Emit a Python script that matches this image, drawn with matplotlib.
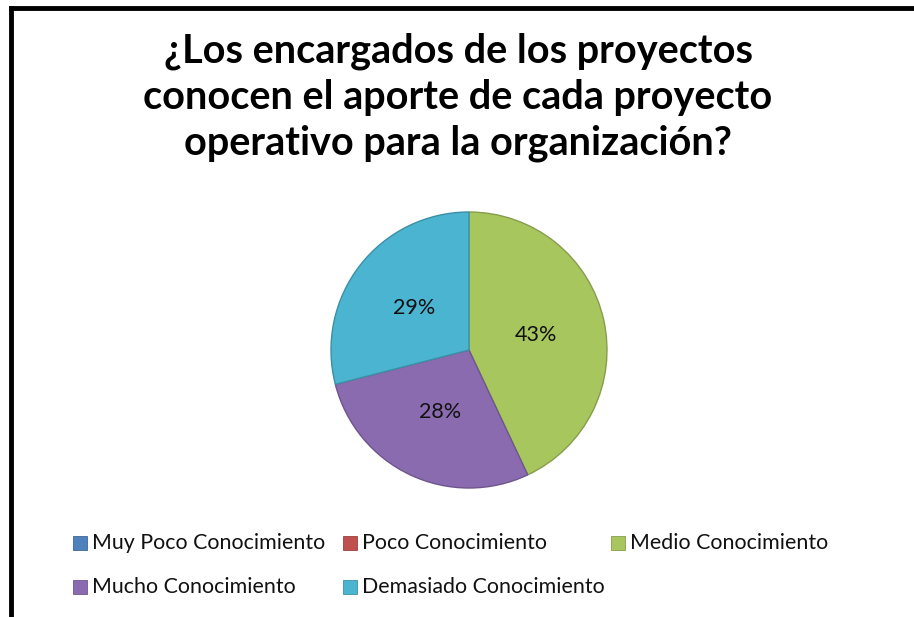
import matplotlib.pyplot as plt
from matplotlib.patches import Rectangle
import matplotlib.colors as mcolors

categories = ['Muy Poco Conocimiento', 'Poco Conocimiento', 'Medio Conocimiento',
              'Mucho Conocimiento', 'Demasiado Conocimiento']
values = [0, 0, 43, 28, 29]
colors = ['#4F81BD', '#C0504D', '#A8C65E', '#8A6BB0', '#4BB4D0']
title = '¿Los encargados de los proyectos\nconocen el aporte de cada proyecto\noperativo para la organización?'

plt.rcParams['font.family'] = ['Lato', 'DejaVu Sans']


def darker(c, f=0.75):
    r, g, b = mcolors.to_rgb(c)
    return (r * f, g * f, b * f)


def main():
    fig = plt.figure(figsize=(9.14, 6.17), dpi=100)
    W, H = 914, 617

    # marco (solo se ven el borde superior e izquierdo)
    fig.add_artist(plt.Line2D([10.5 / W, 10.5 / W], [0, 1 - 8 / H], color='black', lw=3.5))
    fig.add_artist(plt.Line2D([10.5 / W, 1], [1 - 8 / H, 1 - 8 / H], color='black', lw=3.5))

    fig.text(458 / W, 1 - 97 / H, title, ha='center', va='center',
             fontsize=28.5, fontweight='bold', linespacing=1.3)

    cx, cy, r = 469, 350, 138
    ax = fig.add_axes([(cx - r) / W, 1 - (cy + r) / H, 2 * r / W, 2 * r / H])
    wedges, _, autotexts = ax.pie(
        values, colors=colors, startangle=90, counterclock=False,
        autopct=lambda p: '%d%%' % round(p) if p > 0.5 else '',
        pctdistance=0.5, radius=1,
        textprops=dict(fontsize=15.5, color='#111111'))
    for w, c in zip(wedges, colors):
        w.set_edgecolor(darker(c, 0.8))
        w.set_linewidth(1.0)
    ax.set_xlim(-1.0, 1.0)
    ax.set_ylim(-1.0, 1.0)
    ax.set_aspect('equal')

    # leyenda
    xs = [73, 343, 611, 73, 343]
    ys = [543, 543, 543, 587, 587]
    for name, c, x, y in zip(categories, colors, xs, ys):
        fig.add_artist(Rectangle((x / W, 1 - (y + 7) / H), 14 / W, 14 / H,
                                 facecolor=c, edgecolor=darker(c, 0.8), lw=0.6,
                                 transform=fig.transFigure))
        fig.text((x + 19) / W, 1 - y / H, name, ha='left', va='center',
                 fontsize=15.4, color='#111111')

    fig.savefig('out.png', dpi=100)


if __name__ == '__main__':
    main()
